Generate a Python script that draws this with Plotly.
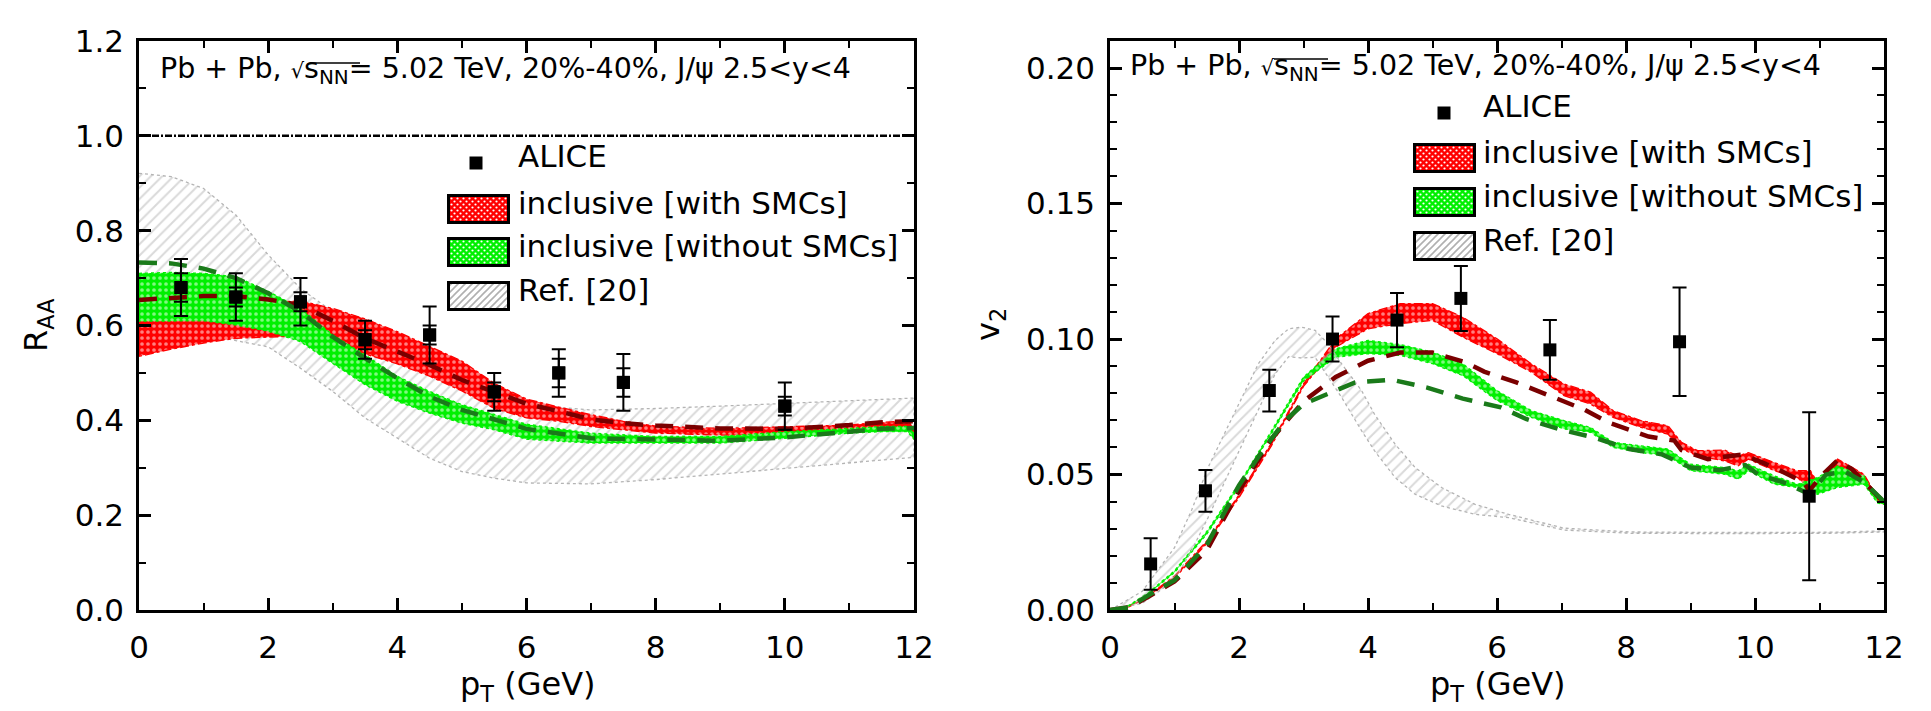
import base64
import plotly.graph_objects as go

# ---------------- data: left panel (R_AA) ----------------
alice_raa_pt = [0.65, 1.5, 2.5, 3.5, 4.5, 5.5, 6.5, 7.5, 10.0]
alice_raa = [0.68, 0.66, 0.65, 0.57, 0.58, 0.46, 0.50, 0.48, 0.43]
alice_raa_sys = [0.06, 0.05, 0.05, 0.04, 0.06, 0.04, 0.05, 0.06, 0.05]
alice_raa_stat = [0.03, 0.02, 0.02, 0.02, 0.02, 0.02, 0.03, 0.03, 0.02]

raa_with_pt = [0, 0.5, 1, 1.5, 2, 2.5, 3, 3.5, 4, 4.5, 5, 5.5, 6, 6.5, 7, 7.5, 8, 9, 10, 11, 11.5, 11.9, 12]
raa_with_up = [0.61, 0.61, 0.612, 0.625, 0.648, 0.652, 0.636, 0.614, 0.587, 0.556, 0.525, 0.478, 0.445, 0.428,
               0.412, 0.398, 0.388, 0.383, 0.386, 0.39, 0.396, 0.398, 0.385]
raa_with_lo = [0.535, 0.55, 0.563, 0.573, 0.575, 0.578, 0.568, 0.54, 0.519, 0.493, 0.462, 0.425, 0.405, 0.398,
               0.387, 0.38, 0.373, 0.369, 0.369, 0.376, 0.382, 0.384, 0.36]

raa_wo_pt = [0, 0.5, 1, 1.5, 2, 2.5, 3, 3.5, 4, 4.5, 5, 5.5, 6, 7, 8, 9, 10, 11, 11.5, 11.9, 12]
raa_wo_up = [0.71, 0.712, 0.71, 0.703, 0.672, 0.636, 0.58, 0.538, 0.493, 0.461, 0.433, 0.412, 0.392, 0.373,
             0.366, 0.366, 0.376, 0.383, 0.387, 0.387, 0.375]
raa_wo_lo = [0.609, 0.61, 0.61, 0.601, 0.588, 0.566, 0.52, 0.475, 0.44, 0.415, 0.394, 0.38, 0.36, 0.352,
             0.352, 0.352, 0.362, 0.373, 0.376, 0.376, 0.36]

raa_dash_red_pt = [0, 0.5, 1, 1.5, 2, 2.5, 3, 3.5, 4, 4.5, 5, 5.5, 6, 6.5, 7, 7.5, 8, 9, 10, 11, 11.5, 12]
raa_dash_red = [0.654, 0.658, 0.662, 0.662, 0.655, 0.643, 0.61, 0.573, 0.546, 0.517, 0.485, 0.461, 0.435, 0.419,
                0.402, 0.394, 0.389, 0.383, 0.382, 0.39, 0.396, 0.398]

raa_dash_green_pt = [0, 0.5, 1, 1.5, 2, 2.5, 3, 3.5, 4, 4.5, 5, 5.5, 6, 7, 8, 9, 10, 11, 11.5, 12]
raa_dash_green = [0.733, 0.731, 0.72, 0.70, 0.668, 0.629, 0.576, 0.531, 0.489, 0.45, 0.422, 0.401, 0.382, 0.362,
                  0.359, 0.357, 0.364, 0.376, 0.382, 0.384]

raa_ref_pt = [0, 0.5, 1, 1.5, 2, 2.5, 3, 3.5, 4, 4.5, 5, 5.5, 6, 7, 8, 9, 10, 11, 12]
raa_ref_up = [0.921, 0.914, 0.889, 0.833, 0.749, 0.678, 0.629, 0.594, 0.559, 0.525, 0.489, 0.461, 0.432, 0.422,
              0.425, 0.43, 0.436, 0.442, 0.447]
raa_ref_lo = [0.60, 0.60, 0.585, 0.568, 0.555, 0.51, 0.461, 0.405, 0.362, 0.32, 0.292, 0.278, 0.268, 0.266,
              0.275, 0.287, 0.299, 0.31, 0.322]

# ---------------- data: right panel (v2) ----------------
alice_v2_pt = [0.63, 1.48, 2.47, 3.45, 4.45, 5.44, 6.82, 8.83, 10.84]
alice_v2 = [0.017, 0.044, 0.081, 0.100, 0.107, 0.115, 0.096, 0.099, 0.042]
alice_v2_err = [0.0095, 0.0077, 0.0077, 0.0083, 0.010, 0.012, 0.011, 0.020, 0.031]

v2_with_pt = [0, 0.3, 0.6, 1.0, 1.5, 2.0, 2.5, 3.0, 3.5, 4.0, 4.5, 5.0, 5.47, 6.0, 6.53, 7.04, 7.45, 7.8, 8.23,
              8.65, 8.86, 9.11, 9.53, 9.74, 9.9, 10.3, 10.66, 10.86, 10.97, 11.28, 11.69, 11.9, 12]
v2_with_up = [0.0, 0.0015, 0.0055, 0.0125, 0.0255, 0.0425, 0.0615, 0.0835, 0.1001, 0.1094, 0.1131, 0.1131,
              0.1081, 0.1001, 0.0909, 0.0834, 0.0804, 0.0736, 0.0699, 0.068, 0.0619, 0.0588, 0.059, 0.0569,
              0.0581, 0.0544, 0.0514, 0.0514, 0.047, 0.0557, 0.0501, 0.0415, 0.040]
v2_with_lo = [0.0, 0.0012, 0.005, 0.0118, 0.0245, 0.0415, 0.0605, 0.0825, 0.097, 0.1038, 0.1057, 0.1069,
              0.1007, 0.0946, 0.0878, 0.0791, 0.076, 0.0711, 0.0674, 0.0649, 0.0594, 0.0569, 0.055, 0.0532,
              0.0557, 0.0514, 0.0489, 0.044, 0.0445, 0.0514, 0.0477, 0.0405, 0.039]

v2_wo_pt = [0, 0.3, 0.6, 1.0, 1.5, 2.0, 2.5, 3.0, 3.5, 4.0, 4.5, 5.0, 5.47, 6.0, 6.53, 7.04, 7.45, 7.8, 8.23,
            8.65, 9.0, 9.53, 9.74, 9.9, 10.3, 10.66, 10.97, 11.28, 11.69, 11.9, 12]
v2_wo_up = [0.0, 0.0018, 0.0065, 0.0145, 0.029, 0.0465, 0.066, 0.086, 0.0964, 0.0995, 0.098, 0.0952, 0.0909,
            0.081, 0.0736, 0.0699, 0.0674, 0.0619, 0.0606, 0.0594, 0.0538, 0.0526, 0.0514, 0.0538, 0.0495,
            0.0464, 0.0489, 0.0532, 0.0495, 0.0403, 0.040]
v2_wo_lo = [0.0, 0.0015, 0.006, 0.0138, 0.028, 0.0455, 0.065, 0.0845, 0.0933, 0.0946, 0.094, 0.0909, 0.0865,
            0.0773, 0.0711, 0.0668, 0.0656, 0.06, 0.0581, 0.0569, 0.0514, 0.0501, 0.0483, 0.0514, 0.0464,
            0.0452, 0.0427, 0.0452, 0.0464, 0.0395, 0.039]

v2_dash_red_pt = [0, 0.3, 0.6, 1.0, 1.5, 2.0, 2.5, 3.0, 3.5, 4.0, 4.5, 5.0, 5.5, 5.8, 6.3, 6.82, 7.35, 7.75,
                  8.35, 8.75, 8.86, 9.27, 9.8, 10.3, 10.76, 10.84, 11.05, 11.28, 11.5, 11.9, 12]
v2_dash_red = [0, 0.001, 0.005, 0.0105, 0.022, 0.044, 0.063, 0.077, 0.086, 0.092, 0.095, 0.095, 0.0915, 0.088,
               0.084, 0.079, 0.074, 0.069, 0.064, 0.0625, 0.059, 0.0557, 0.0574, 0.0526, 0.047, 0.044, 0.05,
               0.0553, 0.052, 0.0421, 0.040]

v2_dash_green_pt = [0, 0.3, 0.6, 1.0, 1.5, 2.0, 2.4, 2.72, 3.0, 3.3, 3.8, 4.37, 4.93, 5.47, 6.06, 6.45, 7.0,
                    7.5, 8.05, 8.55, 9.0, 9.45, 9.85, 10.05, 10.45, 10.85, 11.1, 11.4, 11.7, 12]
v2_dash_green = [0, 0.001, 0.0055, 0.011, 0.024, 0.046, 0.06, 0.07, 0.076, 0.079, 0.084, 0.085, 0.082, 0.078,
                 0.0748, 0.0705, 0.0665, 0.0637, 0.0594, 0.0575, 0.0526, 0.0516, 0.0535, 0.05, 0.047, 0.0427,
                 0.05, 0.051, 0.047, 0.040]

v2_ref_pt = [0, 0.5, 1.0, 1.26, 1.52, 2.05, 2.3, 2.56, 2.77, 2.97, 3.18, 3.38, 3.59, 3.9, 4.1, 4.42, 4.73,
             5.14, 5.66, 6.18, 7.04, 8.08, 9.63, 11.17, 12]
v2_ref_up = [0, 0.0069, 0.023, 0.0365, 0.0526, 0.0785, 0.0909, 0.0995, 0.1038, 0.1044, 0.1032, 0.0983, 0.0909,
             0.081, 0.0723, 0.0612, 0.0526, 0.0452, 0.039, 0.0353, 0.0302, 0.0288, 0.0286, 0.0287, 0.0292]
v2_ref_lo = [0, 0.0025, 0.0111, 0.0217, 0.0341, 0.0612, 0.0736, 0.0871, 0.0935, 0.093, 0.0933, 0.0859, 0.0785,
             0.0662, 0.0588, 0.0489, 0.0427, 0.0384, 0.0353, 0.0341, 0.0295, 0.0283, 0.0282, 0.0283, 0.0288]

x_ticks = [0, 2, 4, 6, 8, 10, 12]
legend_labels = ["ALICE", "inclusive [with SMCs]", "inclusive [without SMCs]", "Ref. [20]"]
header = ("Pb + Pb, <span style='font-size:21px'>√</span>s<sub>NN</sub>= 5.02 TeV, 20%-40%, "
          "J/ψ 2.5&lt;y&lt;4")

# ---------------- geometry ----------------
W, H = 1931, 711
ML, MR, MT, MB = 131, 55, 33, 109
PW, PH = W - ML - MR, H - MT - MB


def px(x):
    return (x - ML) / PW


def py(y):
    return (H - MB - y) / PH


FONT = "DejaVu Sans"
RED, GREEN = "#ff0000", "#00f000"
DRED, DGREEN = "#7a0000", "#1a7a1a"
GREY = "#b4b4b4"

fig = go.Figure()


def band(pt, up, lo, color, pattern, xa, ya, dash):
    fig.add_trace(go.Scatter(
        x=list(pt) + list(pt)[::-1], y=list(up) + list(lo)[::-1],
        mode="lines", fill="toself", fillcolor="rgba(0,0,0,0)", fillpattern=pattern,
        line=dict(color=color, width=1.3, dash=dash), xaxis=xa, yaxis=ya, hoverinfo="skip"))


def dotted(color):
    return dict(shape=".", fgcolor="white", bgcolor=color, size=6, solidity=0.3)


HATCH = dict(shape="/", fgcolor=GREY, bgcolor="rgba(0,0,0,0)", size=8, solidity=0.25)


def dashed(pt, vals, color, xa, ya):
    fig.add_trace(go.Scatter(x=pt, y=vals, mode="lines",
                             line=dict(color=color, width=4.5, dash="18px,12px"),
                             xaxis=xa, yaxis=ya))


# left panel
band(raa_ref_pt, raa_ref_up, raa_ref_lo, GREY, HATCH, "x", "y", "dot")
band(raa_with_pt, raa_with_up, raa_with_lo, RED, dotted(RED), "x", "y", "dashdot")
band(raa_wo_pt, raa_wo_up, raa_wo_lo, GREEN, dotted(GREEN), "x", "y", "dot")
dashed(raa_dash_red_pt, raa_dash_red, DRED, "x", "y")
dashed(raa_dash_green_pt, raa_dash_green, DGREEN, "x", "y")
fig.add_trace(go.Scatter(x=alice_raa_pt, y=alice_raa, mode="markers",
                         marker=dict(symbol="square", size=13, color="black"),
                         error_y=dict(type="data", array=alice_raa_sys, color="black", thickness=2, width=7),
                         xaxis="x", yaxis="y"))
fig.add_trace(go.Scatter(x=alice_raa_pt, y=alice_raa, mode="markers",
                         marker=dict(symbol="square", size=13, color="black"),
                         error_y=dict(type="data", array=alice_raa_stat, color="black", thickness=2, width=7),
                         xaxis="x", yaxis="y"))

# right panel
band(v2_with_pt, v2_with_up, v2_with_lo, RED, dotted(RED), "x2", "y2", "dashdot")
band(v2_wo_pt, v2_wo_up, v2_wo_lo, GREEN, dotted(GREEN), "x2", "y2", "dot")
band(v2_ref_pt, v2_ref_up, v2_ref_lo, GREY, HATCH, "x2", "y2", "dot")
dashed(v2_dash_red_pt, v2_dash_red, DRED, "x2", "y2")
dashed(v2_dash_green_pt, v2_dash_green, DGREEN, "x2", "y2")
fig.add_trace(go.Scatter(x=alice_v2_pt, y=alice_v2, mode="markers",
                         marker=dict(symbol="square", size=13, color="black"),
                         error_y=dict(type="data", array=alice_v2_err, color="black", thickness=2, width=7),
                         xaxis="x2", yaxis="y2"))

tickfont = dict(family=FONT, size=31, color="black")
axis_common = dict(showline=True, linewidth=2.5, linecolor="black", mirror="ticks", ticks="inside",
                   ticklen=12, tickwidth=2.5, tickcolor="black", showgrid=False, zeroline=False,
                   tickfont=tickfont)
xcommon = dict(axis_common, range=[0, 12], tickvals=x_ticks, ticklabelstandoff=8,
               minor=dict(dtick=1, ticks="inside", ticklen=7, tickwidth=2, tickcolor="black", showgrid=False))

fig.update_layout(
    width=W, height=H, margin=dict(l=ML, r=MR, t=MT, b=MB),
    paper_bgcolor="white", plot_bgcolor="white", showlegend=False,
    xaxis=dict(xcommon, domain=[0, px(906)], anchor="y"),
    yaxis=dict(axis_common, range=[0, 1.2], dtick=0.2, tickformat=".1f", anchor="x", ticklabelstandoff=6,
               minor=dict(dtick=0.1, ticks="inside", ticklen=7, tickwidth=2, tickcolor="black", showgrid=False)),
    xaxis2=dict(xcommon, domain=[px(1102), 1], anchor="y2"),
    yaxis2=dict(axis_common, range=[0, 0.21], tick0=0, dtick=0.05, tickformat=".2f", anchor="x2",
                ticklabelstandoff=6,
                minor=dict(dtick=0.01, ticks="inside", ticklen=7, tickwidth=2, tickcolor="black",
                           showgrid=False)),
)

# reference line at R_AA = 1
fig.add_shape(type="line", xref="x domain", yref="y", x0=0, x1=1, y0=1.0, y1=1.0,
              line=dict(color="black", width=2.5, dash="7px,2px,2px,2px"))

annotations = []


def txt(x, y, text, size=31, xanchor="left", angle=0):
    annotations.append(dict(xref="paper", yref="paper", x=px(x), y=py(y), text=text, showarrow=False,
                            xanchor=xanchor, yanchor="middle", textangle=angle,
                            font=dict(family=FONT, size=size, color="black")))


# headers with overline over s_NN
for hx, hy, ox0, ox1, oy in [(150, 63, 302, 352, 55), (1120, 59, 1266, 1320, 51)]:
    txt(hx, hy, header, size=28.5)
    fig.add_shape(type="line", xref="paper", yref="paper", x0=px(ox0), x1=px(ox1), y0=py(oy), y1=py(oy),
                  line=dict(color="black", width=1.3))

# axis titles
txt(30, 317, "R<sub>AA</sub>", size=32, xanchor="center", angle=-90)
txt(520, 678, "p<sub>T</sub> (GeV)", size=32, xanchor="center")
txt(982, 317, "v<sub>2</sub>", size=32, xanchor="center", angle=-90)
txt(1490, 678, "p<sub>T</sub> (GeV)", size=32, xanchor="center")


def swatch(kind):
    w, h = 63, 30
    if kind == "hatch":
        pat = ('<pattern id="p" width="7" height="7" patternUnits="userSpaceOnUse">'
               '<rect width="7" height="7" fill="white"/>'
               '<path d="M-1,8 L8,-1 M-1,1 L1,-1 M6,8 L8,6" stroke="#b0b0b0" stroke-width="1.6"/></pattern>')
    else:
        c = RED if kind == "red" else GREEN
        pat = ('<pattern id="p" width="6" height="6" patternUnits="userSpaceOnUse">'
               f'<rect width="6" height="6" fill="{c}"/>'
               '<circle cx="1.5" cy="1.5" r="1.1" fill="white"/>'
               '<circle cx="4.5" cy="4.5" r="1.1" fill="white"/></pattern>')
    svg = (f'<svg xmlns="http://www.w3.org/2000/svg" width="{w}" height="{h}" viewBox="0 0 {w} {h}">'
           f'<defs>{pat}</defs><rect x="1.5" y="1.5" width="{w - 3}" height="{h - 3}" fill="url(#p)" '
           'stroke="black" stroke-width="3"/></svg>')
    return "data:image/svg+xml;base64," + base64.b64encode(svg.encode()).decode()


images = []
kinds = ["red", "green", "hatch"]
for (bx, mx, tx, ay, rows) in [(439, 468, 508, 155, [201, 244, 288]),
                               (1405, 1436, 1473, 105, [150, 194, 238])]:
    fig.add_shape(type="rect", xref="paper", yref="paper", x0=px(mx - 6.5), x1=px(mx + 6.5),
                  y0=py(ay + 6.5), y1=py(ay - 6.5), fillcolor="black", line=dict(width=0))
    txt(tx, ay - 7, legend_labels[0])
    for k, ry, lab in zip(kinds, rows, legend_labels[1:]):
        images.append(dict(source=swatch(k), xref="paper", yref="paper", x=px(bx), y=py(ry - 15),
                           sizex=63 / PW, sizey=30 / PH, sizing="stretch", xanchor="left", yanchor="top",
                           layer="above"))
        txt(tx, ry - 6, lab)

fig.update_layout(annotations=annotations, images=images)
fig.write_html("out.html")
